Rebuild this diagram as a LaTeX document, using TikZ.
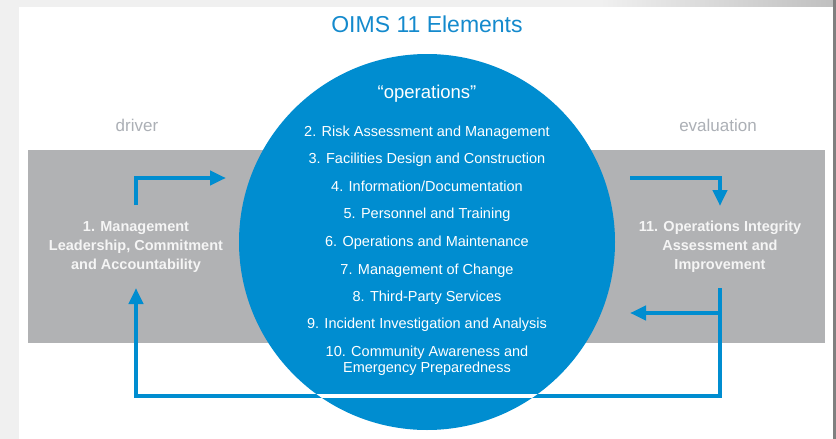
\documentclass[tikz,border=0pt]{standalone}
\usepackage{fontspec}
\setmainfont{Liberation Sans}
\usetikzlibrary{arrows.meta}
\definecolor{oblue}{RGB}{0,141,208}
\definecolor{tblue}{RGB}{20,138,205}
\definecolor{band}{RGB}{177,178,180}
\definecolor{lbl}{RGB}{172,176,182}
\definecolor{bggray}{RGB}{240,240,240}
\tikzset{
  arr/.style={draw=oblue, line width=4.7pt, line join=miter, -{Triangle[length=16pt,width=14pt]}},
  item/.style={text=white, font=\fontsize{14.5}{17}\selectfont, anchor=base, inner sep=0pt},
  side/.style={text=white!96!black, font=\bfseries\fontsize{14.5}{19}\selectfont, align=center, inner sep=0pt},
  tag/.style={text=lbl, font=\fontsize{17}{20}\selectfont, inner sep=0pt},
}
\begin{document}
\begin{tikzpicture}[x=1pt,y=-1pt]
\useasboundingbox (0,0) rectangle (836,439);
% page background
\fill[bggray] (0,0) rectangle (836,439);
\shade[left color=bggray, right color=black!25] (600,0) rectangle (836,7);
\fill[black!50] (833,0) rectangle (836,439);
\fill[white] (19,7) rectangle (833,439);
% grey band
\fill[band] (28,150) rectangle (825,343);
% circle
\node[circle, fill=oblue, minimum size=376pt, inner sep=0pt] (C) at (427,242) {};
% title and tags
\node[text=tblue, font=\fontsize{23}{26}\selectfont, anchor=base, inner sep=0pt] (T) at (427,32) {OIMS 11 Elements};
\node[tag] (drv) at (137,125) {driver};
\node[tag] (evl) at (718,125) {evaluation};
% side texts
\node[side] (L) at (136,247) {1. Management\\Leadership, Commitment\\and Accountability};
\node[side] (R) at (720,247) {11. Operations Integrity\\Assessment and\\Improvement};
% circle texts
\node[text=white, font=\fontsize{18.5}{20}\selectfont, anchor=base, inner sep=0pt] (ops) at (427,98) {“operations”};
\node[item] (e2) at (427,136) {2. Risk Assessment and Management};
\node[item] (e3) at (427,163) {3. Facilities Design and Construction};
\node[item] (e4) at (427,191) {4. Information/Documentation};
\node[item] (e5) at (427,218) {5. Personnel and Training};
\node[item] (e6) at (427,246) {6. Operations and Maintenance};
\node[item] (e7) at (427,274) {7. Management of Change};
\node[item] (e8) at (427,301) {8. Third-Party Services};
\node[item] (e9) at (427,328) {9. Incident Investigation and Analysis};
\node[item] (e10a) at (427,356) {10. Community Awareness and};
\node[item] (e10b) at (427,372) {Emergency Preparedness};
% connector points
\coordinate (l1) at (136,205);
\coordinate (l2) at (226,178);
\coordinate (l3) at (136,288);
\coordinate (r1) at (630,178);
\coordinate (r2) at (720,206);
\coordinate (r3) at (720,288);
\coordinate (r4) at (720,396);
\coordinate (rb) at (720,313);
\coordinate (r5) at (630,313);
\coordinate (lb) at (136,396);
% arrows
\draw[arr] (l1) |- (l2);
\draw[arr] (r1) -| (r2);
\draw[arr] (r3) -- (r4) -| (l3);
\draw[arr] (rb) -- (r5);
% knock-out of the return line inside the circle
\begin{scope}
  \clip (C.center) circle (188pt);
  \draw[white, line width=4.7pt] (lb) -- (r4);
\end{scope}
\end{tikzpicture}
\end{document}
